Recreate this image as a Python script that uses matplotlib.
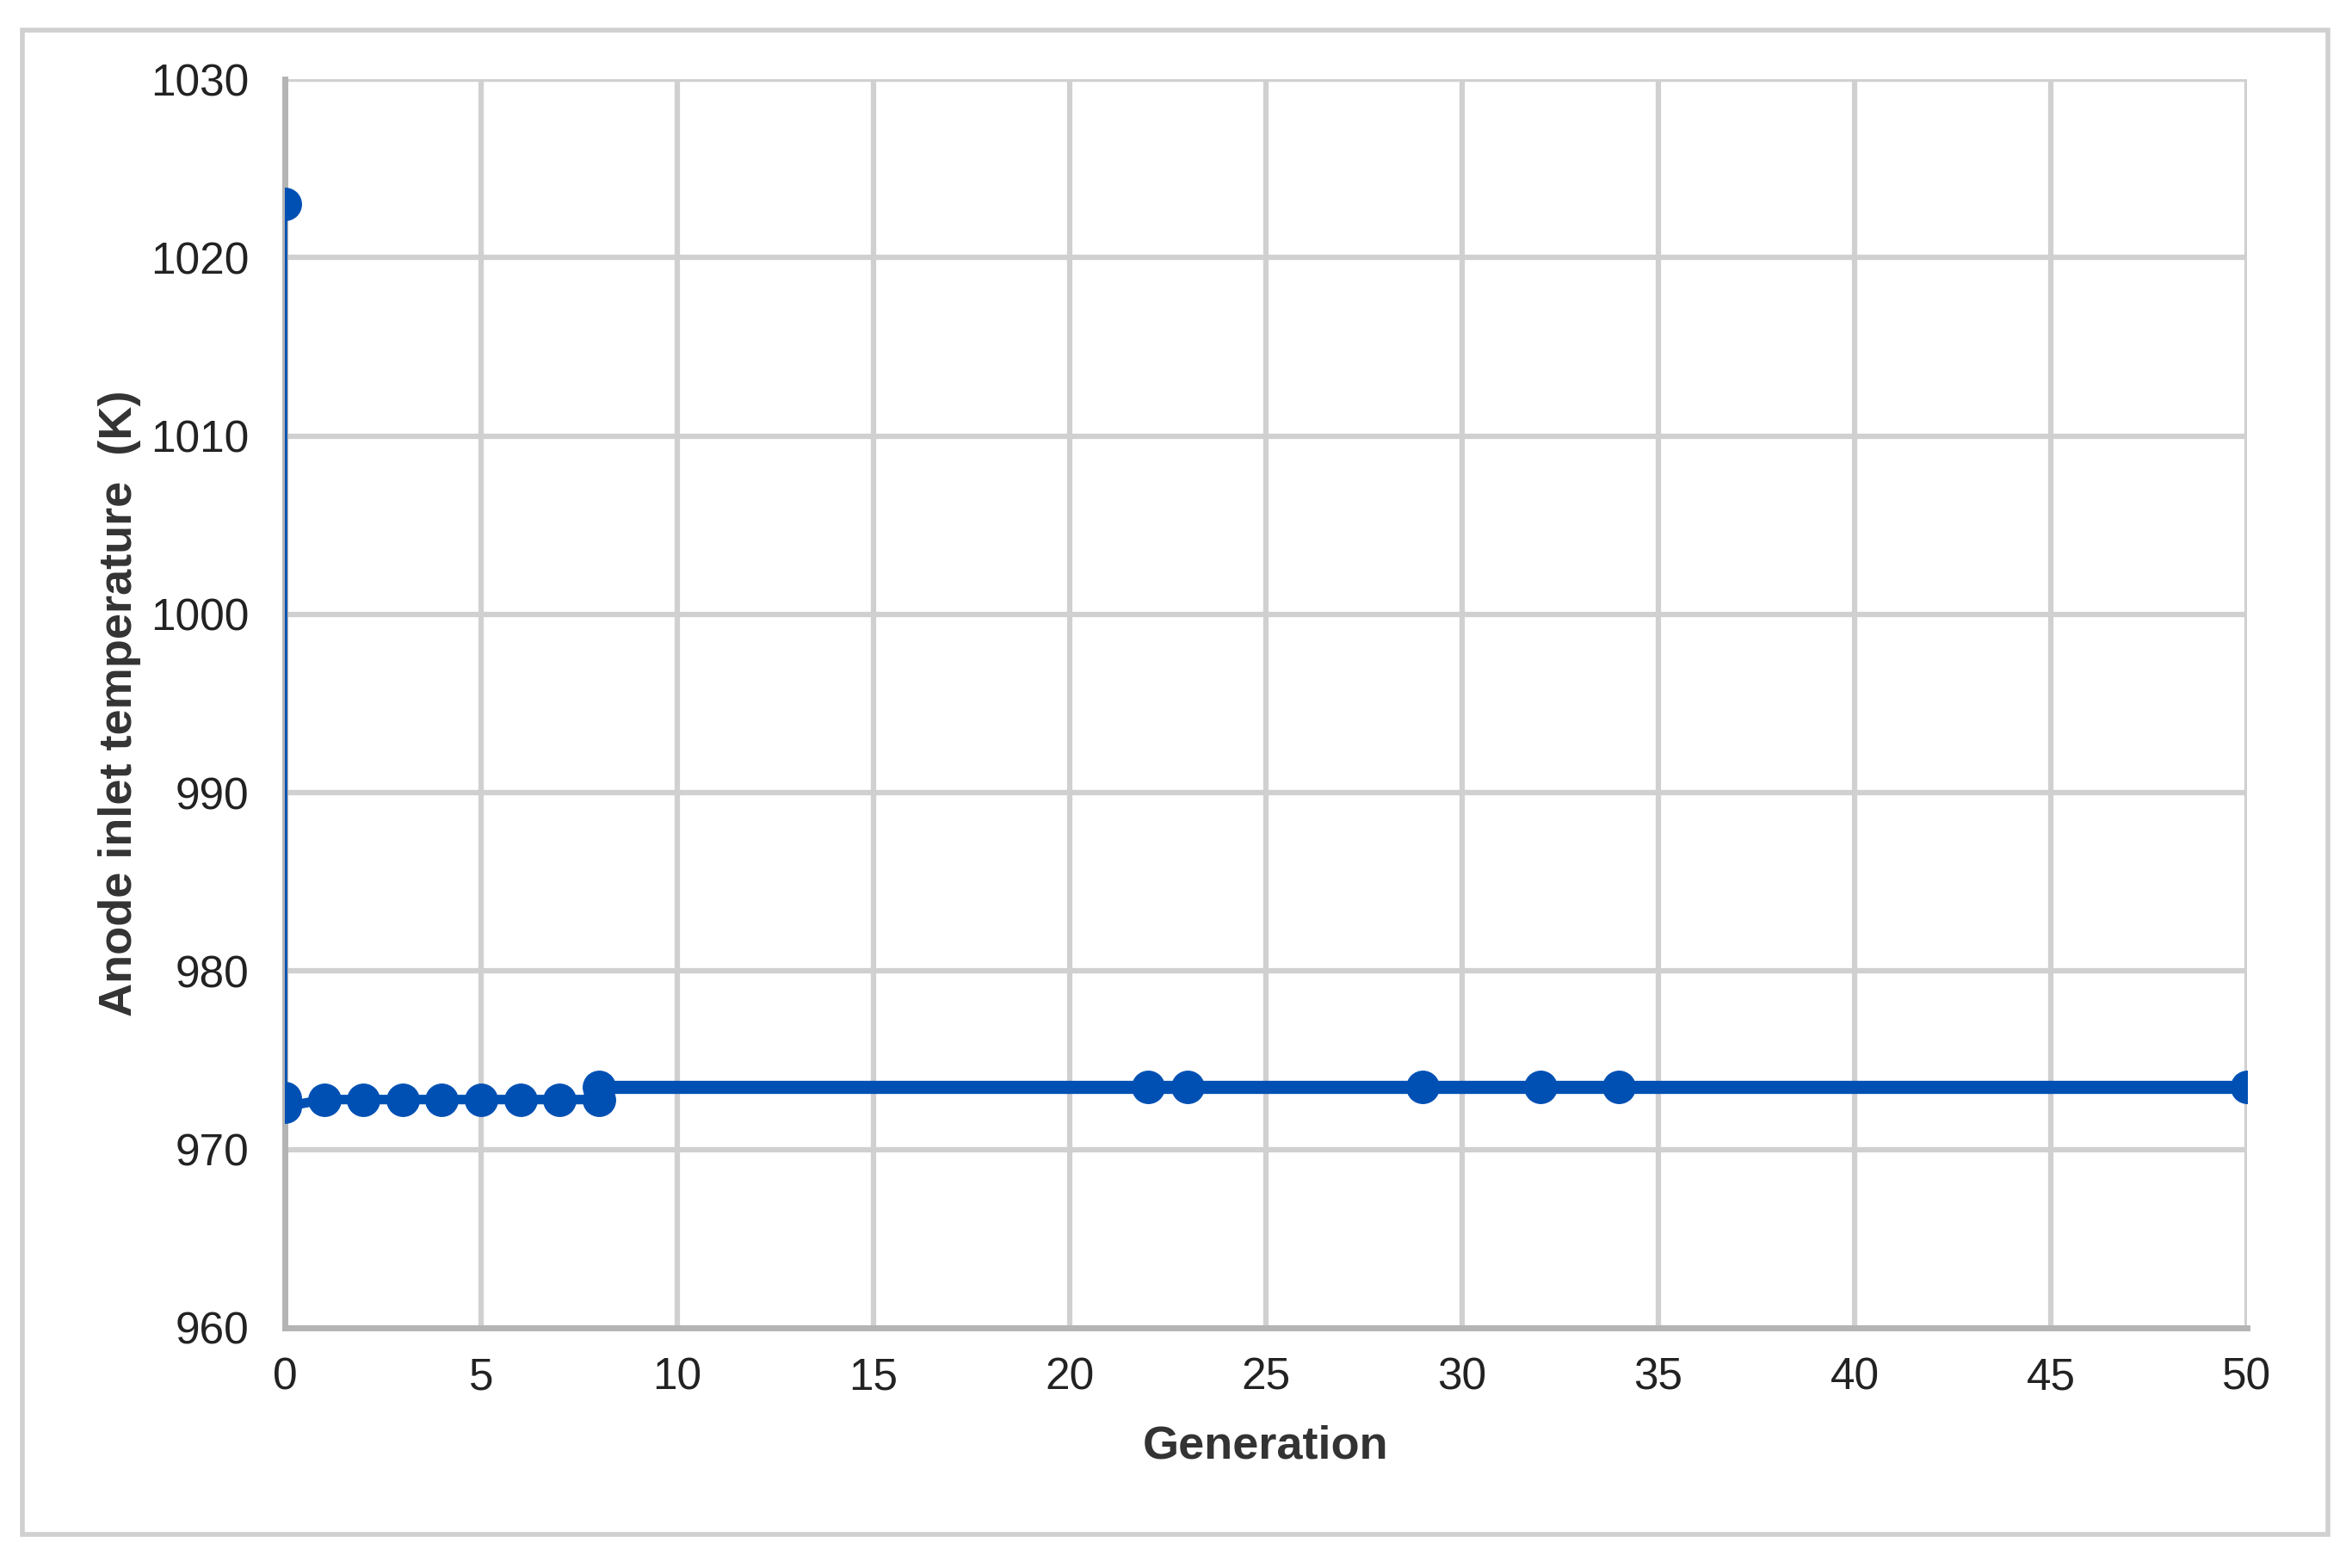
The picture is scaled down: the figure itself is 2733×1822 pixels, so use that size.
import numpy as np
import matplotlib.pyplot as plt

# Data
generation = [0, 0, 0, 1, 2, 3, 4, 5, 6, 7, 8, 8, 22, 23, 29, 32, 34, 50]
temperature = [1023.0, 972.9, 972.4, 972.8, 972.8, 972.8, 972.8, 972.8, 972.8, 972.8, 972.8,
               973.5, 973.5, 973.5, 973.5, 973.5, 973.5, 973.5]
x_ticks = list(range(0, 51, 5))
y_ticks = list(range(960, 1031, 10))

plt.rcParams['font.family'] = ['Liberation Sans', 'DejaVu Sans']

fig = plt.figure(figsize=(27.33, 18.22), dpi=100)
ax = fig.add_axes([331 / 2733, 1 - 1543 / 1822, (2611 - 331) / 2733, (1543 - 92) / 1822])

blue = '#0050b4'
# vertical drop, early steps, and the long plateau (slightly different line weights)
ax.plot(generation[:2], temperature[:2], color=blue, lw=4, zorder=3)
ax.plot(generation[2:11], temperature[2:11], color=blue, lw=8, zorder=3)
ax.plot(generation[10:], temperature[10:], color=blue, lw=11, zorder=3)
ax.plot(generation, temperature, ls='none', marker='o', ms=27, color=blue, zorder=4)

ax.set_xlim(0, 50)
ax.set_ylim(960, 1030)
ax.set_xticks(x_ticks)
ax.set_yticks(y_ticks)
ax.grid(True, color='#d0d0d0', lw=4.5)
ax.set_axisbelow(True)
for side in ['top', 'right']:
    ax.spines[side].set_visible(False)
for side in ['left', 'bottom']:
    ax.spines[side].set_color('#b4b4b4')
    ax.spines[side].set_linewidth(5)
ax.tick_params(length=0, labelsize=37, colors='#333333')
ax.tick_params(axis='y', pad=30)
ax.tick_params(axis='x', pad=24)
for lab in ax.get_xticklabels() + ax.get_yticklabels():
    lab.set_color('#222222')

ax.set_xlabel('Generation', fontsize=39, fontweight='bold', color='#333333', labelpad=22)
ax.set_ylabel('Anode inlet temperature  (K)', fontsize=39, fontweight='bold', color='#333333', labelpad=8)

# outer frame
fig.patches.append(plt.Rectangle((26 / 2733, 1 - 1783 / 1822), (2705 - 26) / 2733, (1783 - 35) / 1822,
                                 transform=fig.transFigure, fill=False, ec='#d0d0d0', lw=4))

fig.savefig('out.png', dpi=100)
